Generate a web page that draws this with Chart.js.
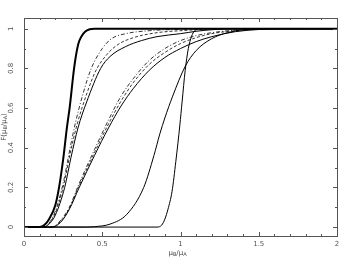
<!DOCTYPE html>
<html>
<head>
<meta charset="utf-8">
<script src="https://cdn.jsdelivr.net/npm/chart.js@4.4.1/dist/chart.umd.min.js"></script>
<style>
  html, body { margin: 0; padding: 0; background: #fff; }
  #wrap { width: 364px; height: 264px; position: relative; }
</style>
</head>
<body>
<div id="wrap"><canvas id="chart"></canvas></div>
<script>
// x-axis tick labels and y-axis tick labels
const xTickLabels = ['0', '0.5', '1', '1.5', '2'];
const yTickLabels = ['0', '0.2', '0.4', '0.6', '0.8', '1'];

// steep thick curve
const curveA_x = [0, 0.1, 0.13, 0.16, 0.2, 0.224, 0.25, 0.274, 0.293, 0.32, 0.346, 0.37, 0.39, 0.42, 0.45, 2];
const curveA_y = [0, 0, 0.01, 0.04, 0.11, 0.2, 0.34, 0.5, 0.61, 0.8, 0.92, 0.965, 0.985, 0.997, 1, 1];

// second group: dash-dot, dashed, solid
const curveB1_x = [0, 0.12, 0.15, 0.2, 0.25, 0.3, 0.33, 0.38, 0.43, 0.5, 0.56, 0.65, 0.8, 1.0, 1.2, 2];
const curveB1_y = [0, 0, 0.01, 0.08, 0.22, 0.42, 0.53, 0.68, 0.8, 0.9, 0.95, 0.975, 0.99, 0.997, 1, 1];
const curveB2_x = [0, 0.12, 0.15, 0.2, 0.25, 0.3, 0.34, 0.4, 0.46, 0.53, 0.6, 0.7, 0.85, 1.0, 1.2, 1.3, 2];
const curveB2_y = [0, 0, 0.01, 0.07, 0.2, 0.39, 0.52, 0.67, 0.79, 0.87, 0.92, 0.955, 0.98, 0.99, 0.998, 1, 1];
const curveB3_x = [0, 0.12, 0.15, 0.2, 0.26, 0.3, 0.345, 0.4, 0.49, 0.55, 0.65, 0.75, 0.85, 1.0, 1.1, 1.2, 1.35, 2];
const curveB3_y = [0, 0, 0.008, 0.06, 0.2, 0.35, 0.5, 0.63, 0.8, 0.86, 0.91, 0.94, 0.96, 0.975, 0.987, 0.995, 1, 1];

// third group: dash-dot, dashed, solid
const curveC1_x = [0, 0.18, 0.235, 0.29, 0.35, 0.45, 0.54, 0.62, 0.7, 0.8, 0.9, 1.0, 1.1, 1.2, 1.35, 1.5, 2];
const curveC1_y = [0, 0, 0.035, 0.1, 0.215, 0.39, 0.54, 0.66, 0.75, 0.84, 0.9, 0.94, 0.965, 0.98, 0.993, 1, 1];
const curveC2_x = [0, 0.18, 0.235, 0.29, 0.35, 0.45, 0.54, 0.62, 0.7, 0.8, 0.9, 1.0, 1.1, 1.2, 1.35, 1.5, 1.6, 2];
const curveC2_y = [0, 0, 0.03, 0.095, 0.205, 0.375, 0.52, 0.635, 0.73, 0.82, 0.88, 0.925, 0.955, 0.975, 0.99, 0.998, 1, 1];
const curveC3_x = [0, 0.18, 0.235, 0.29, 0.35, 0.45, 0.54, 0.62, 0.7, 0.8, 0.9, 1.0, 1.1, 1.2, 1.35, 1.5, 1.65, 2];
const curveC3_y = [0, 0, 0.025, 0.09, 0.195, 0.36, 0.5, 0.61, 0.7, 0.79, 0.855, 0.9, 0.935, 0.96, 0.985, 0.996, 1, 1];

// fourth curve (solid)
const curveD_x = [0, 0.4, 0.45, 0.55, 0.658, 0.765, 0.83, 0.868, 0.9, 0.95, 1.03, 1.1, 1.2, 1.3, 1.4, 1.5, 2];
const curveD_y = [0, 0, 0.002, 0.015, 0.065, 0.2, 0.36, 0.47, 0.55, 0.66, 0.81, 0.89, 0.95, 0.98, 0.995, 1, 1];

// steep curve near 1
const curveE_x = [0, 0.85, 0.88, 0.9, 0.92, 0.946, 0.97, 0.996, 1.01, 1.03, 1.05, 1.07, 1.09, 1.12, 2];
const curveE_y = [0, 0, 0.01, 0.04, 0.09, 0.18, 0.33, 0.515, 0.63, 0.79, 0.9, 0.96, 0.99, 1, 1];

const toPoints = (xs, ys) => xs.map((x, i) => ({x: x, y: ys[i]}));

const DASHDOT = [4, 2, 1, 2];
const DASHED = [3, 2];

const mkSet = (xs, ys, width, dash) => ({
  data: toPoints(xs, ys),
  borderColor: '#000',
  borderWidth: width,
  borderDash: dash,
  pointRadius: 0,
  fill: false,
  cubicInterpolationMode: 'monotone'
});

const datasets = [
  mkSet(curveE_x, curveE_y, 1, []),
  mkSet(curveD_x, curveD_y, 1, []),
  mkSet(curveC1_x, curveC1_y, 0.8, DASHDOT),
  mkSet(curveC2_x, curveC2_y, 0.8, DASHED),
  mkSet(curveC3_x, curveC3_y, 1, []),
  mkSet(curveB1_x, curveB1_y, 0.8, DASHDOT),
  mkSet(curveB2_x, curveB2_y, 0.8, DASHED),
  mkSet(curveB3_x, curveB3_y, 1, []),
  mkSet(curveA_x, curveA_y, 2, [])
];

// draw text with a subscript piece
const drawSubText = (ctx, parts, x, y) => {
  // parts: [[text, isSub], ...], centred on x
  const big = '7px "DejaVu Sans", sans-serif';
  const small = '5px "DejaVu Sans", sans-serif';
  let total = 0;
  parts.forEach(p => { ctx.font = p[1] ? small : big; total += ctx.measureText(p[0]).width; });
  let cx = x - total / 2;
  parts.forEach(p => {
    ctx.font = p[1] ? small : big;
    ctx.fillText(p[0], cx, p[1] ? y + 2 : y);
    cx += ctx.measureText(p[0]).width;
  });
};

const frameTicks = {
  id: 'frameTicks',
  afterDraw(chart) {
    const {ctx, chartArea: a, scales: {x, y}} = chart;
    ctx.save();
    ctx.strokeStyle = '#555';
    ctx.lineWidth = 1;
    ctx.strokeRect(Math.round(a.left) + 0.5, Math.round(a.top) + 0.5,
      Math.round(a.right - a.left), Math.round(a.bottom - a.top));
    ctx.beginPath();
    for (let i = 0; i <= 20; i++) {
      const px = Math.round(x.getPixelForValue(i / 10)) + 0.5;
      const len = i % 5 === 0 ? 4 : 2;
      ctx.moveTo(px, a.bottom); ctx.lineTo(px, a.bottom - len);
      ctx.moveTo(px, a.top); ctx.lineTo(px, a.top + len);
    }
    for (let i = 0; i <= 10; i++) {
      const py = Math.round(y.getPixelForValue(i / 10)) + 0.5;
      const len = i % 2 === 0 ? 4 : 2;
      ctx.moveTo(a.left, py); ctx.lineTo(a.left + len, py);
      ctx.moveTo(a.right, py); ctx.lineTo(a.right - len, py);
    }
    ctx.stroke();

    // axis titles
    ctx.fillStyle = '#444';
    ctx.textBaseline = 'middle';
    ctx.textAlign = 'left';
    drawSubText(ctx, [['\u03bc', false], ['B', true], ['/\u03bc', false], ['A', true]],
      (a.left + a.right) / 2 - 3, 253);
    ctx.save();
    ctx.translate(4, (a.top + a.bottom) / 2);
    ctx.rotate(-Math.PI / 2);
    drawSubText(ctx, [['F(\u03bc', false], ['B', true], ['/\u03bc', false], ['A', true], [')', false]], 0, 0);
    ctx.restore();
    ctx.restore();
  }
};

new Chart(document.getElementById('chart'), {
  type: 'line',
  data: { datasets: datasets },
  options: {
    responsive: true,
    maintainAspectRatio: false,
    animation: false,
    layout: { padding: { left: 0, top: 18, right: 27, bottom: 0 } },
    plugins: {
      legend: { display: false },
      tooltip: { enabled: false },
      title: { display: false }
    },
    scales: {
      x: {
        type: 'linear',
        min: 0,
        max: 2,
        grid: { display: false, drawTicks: false },
        border: { display: false },
        ticks: {
          stepSize: 0.5,
          padding: 4,
          maxRotation: 0,
          color: '#555',
          font: { family: '"DejaVu Sans", sans-serif', size: 7 },
          callback: (v) => xTickLabels[Math.round(v * 2)]
        },
        afterFit: (s) => { s.height = 28; }
      },
      y: {
        type: 'linear',
        min: -0.045,
        max: 1.054,
        grid: { display: false, drawTicks: false },
        border: { display: false },
        ticks: {
          stepSize: 0.2,
          includeBounds: false,
          minRotation: 90,
          maxRotation: 90,
          crossAlign: 'center',
          padding: 7,
          color: '#555',
          font: { family: '"DejaVu Sans", sans-serif', size: 7 },
          callback: (v) => yTickLabels[Math.round(v * 5)]
        },
        afterFit: (s) => { s.width = 24; }
      }
    }
  },
  plugins: [frameTicks]
});
</script>
</body>
</html>
